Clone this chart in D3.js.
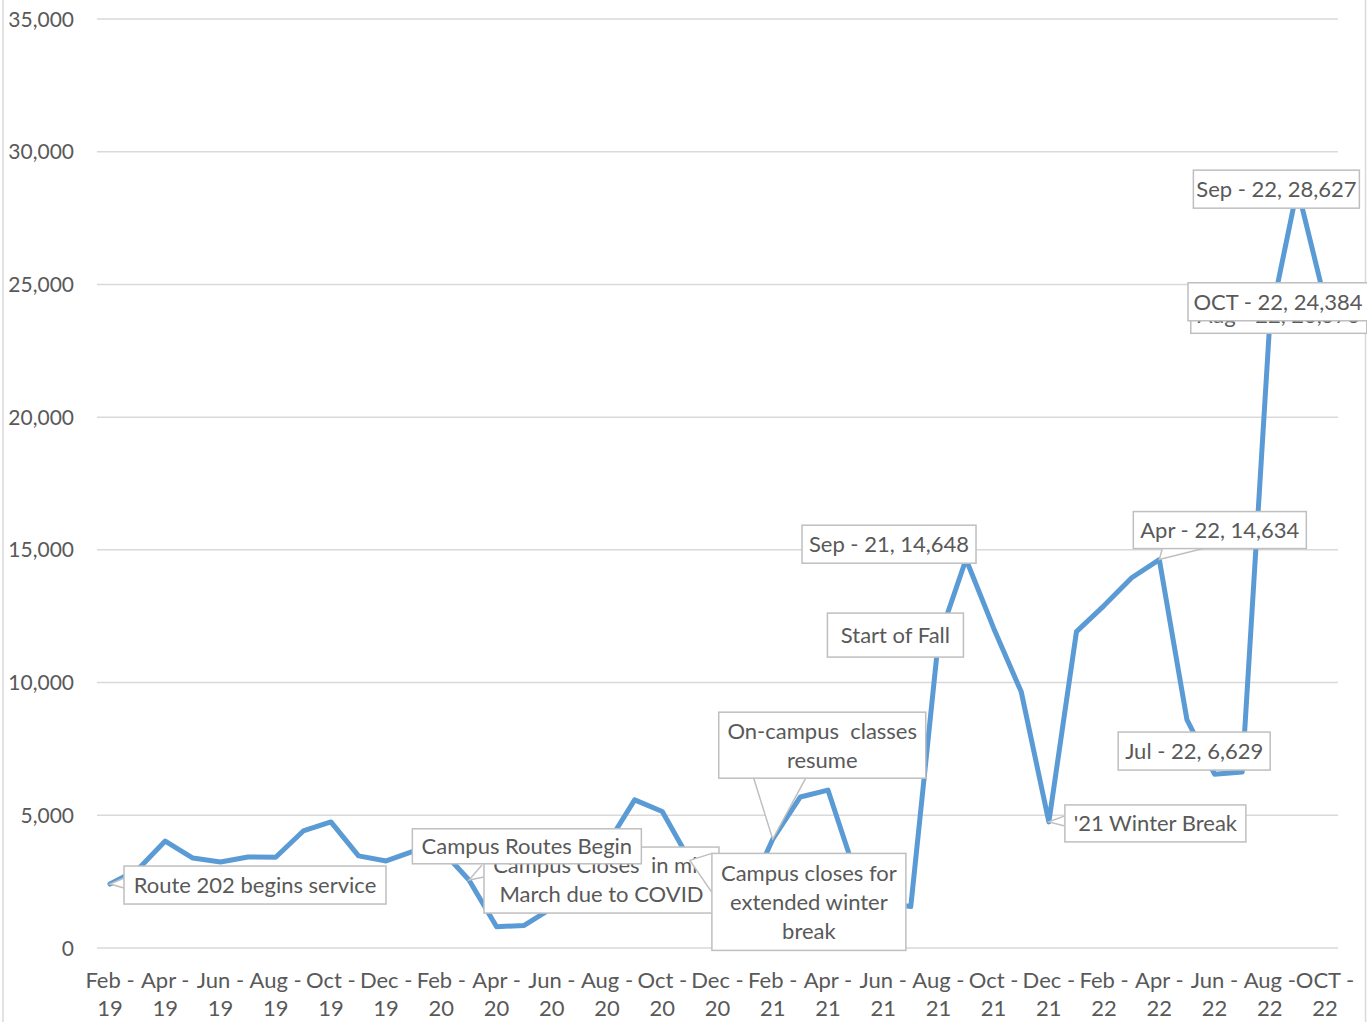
<!DOCTYPE html>
<html lang="en">

<head>
    <meta charset="UTF-8">
    <title>Ridership</title>
    <style>
        body {
            margin: 0;
            background: #ffffff;
        }
    </style>
</head>

<body>
    <div id="chart"></div>
</body>
<script src="https://cdnjs.cloudflare.com/ajax/libs/d3/7.8.5/d3.min.js"></script>
<script>
    // monthly categories, Feb 2019 .. Oct 2022
    var months = [
        "Feb - 19", "Mar - 19", "Apr - 19", "May - 19", "Jun - 19", "Jul - 19", "Aug - 19", "Sep - 19", "Oct - 19", "Nov - 19", "Dec - 19",
        "Jan - 20", "Feb - 20", "Mar - 20", "Apr - 20", "May - 20", "Jun - 20", "Jul - 20", "Aug - 20", "Sep - 20", "Oct - 20", "Nov - 20", "Dec - 20",
        "Jan - 21", "Feb - 21", "Mar - 21", "Apr - 21", "May - 21", "Jun - 21", "Jul - 21", "Aug - 21", "Sep - 21", "Oct - 21", "Nov - 21", "Dec - 21",
        "Jan - 22", "Feb - 22", "Mar - 22", "Apr - 22", "May - 22", "Jun - 22", "Jul - 22", "Aug - 22", "Sep - 22", "OCT - 22"
    ];
    var riders = [
        2410, 2950, 4030, 3390, 3240, 3430, 3420, 4410, 4750, 3470, 3280,
        3650, 3700, 2560, 800, 850, 1500, 2600, 3900, 5580, 5140, 3300, 2300,
        1800, 4100, 5690, 5950, 2800, 1700, 1560, 11600, 14648, 12050, 9650, 4750,
        11920, 12900, 13950, 14634, 8600, 6550, 6629, 23573, 28627, 24384
    ];
    var yTicks = [0, 5000, 10000, 15000, 20000, 25000, 30000, 35000];

    // callout text, attached to a month
    var noteMonths = ["Mar - 20", "Feb - 19", "Feb - 20", "Feb - 21", "Nov - 20", "Sep - 21", "Aug - 21", "Dec - 21", "Apr - 22", "Jul - 22", "Sep - 22", "Aug - 22", "OCT - 22"];
    var noteTexts = [
        ["Campus Closes  in mid", "March due to COVID"],
        ["Route 202 begins service"],
        ["Campus Routes Begin"],
        ["On-campus  classes", "resume"],
        ["Campus closes for", "extended winter", "break"],
        ["Sep - 21, 14,648"],
        ["Start of Fall"],
        ["'21 Winter Break"],
        ["Apr - 22, 14,634"],
        ["Jul - 22, 6,629"],
        ["Sep - 22, 28,627"],
        ["Aug - 22, 23,573"],
        ["OCT - 22, 24,384"]
    ];
</script>
<script>
    var W = 1367, H = 1022;
    var font = "Lato, 'Open Sans', sans-serif";
    var fontSize = "22px";
    var textColor = "#595959";
    var gridColor = "#d9d9d9";
    var lineColor = "#5b9bd5";

    var svg = d3.select("#chart").append("svg")
        .attr("width", W)
        .attr("height", H);

    var x = d3.scalePoint().domain(months).range([110, 1325]);
    var y = d3.scaleLinear().domain([0, 35000]).range([948, 19]);

    // chart border (left / right edges only show)
    svg.append("line").attr("x1", 3).attr("x2", 3).attr("y1", 0).attr("y2", H)
        .style("stroke", gridColor).style("stroke-width", 1.5);
    svg.append("line").attr("x1", 1365.5).attr("x2", 1365.5).attr("y1", 0).attr("y2", H)
        .style("stroke", gridColor).style("stroke-width", 1.5);

    // gridlines
    svg.selectAll(".grid").data(yTicks).enter().append("line")
        .attr("x1", 97).attr("x2", 1338)
        .attr("y1", function (d) { return y(d); })
        .attr("y2", function (d) { return y(d); })
        .style("stroke", gridColor).style("stroke-width", 1.5);

    // y labels
    var fmt = d3.format(",");
    svg.selectAll(".ylab").data(yTicks).enter().append("text")
        .attr("x", 74)
        .attr("y", function (d) { return y(d); })
        .attr("dy", "0.36em")
        .attr("text-anchor", "end")
        .style("font-family", font).style("font-size", "21px").style("fill", textColor)
        .text(function (d) { return fmt(d); });

    // x labels, every other month, split on two lines
    var shown = months.filter(function (m, i) { return i % 2 == 0; });
    var xl = svg.selectAll(".xlab").data(shown).enter().append("text")
        .attr("text-anchor", "middle")
        .style("font-family", font).style("font-size", fontSize).style("fill", textColor);
    xl.append("tspan")
        .attr("x", function (d) { return x(d); })
        .attr("y", 988)
        .text(function (d) { return d.split(" - ")[0] + " -"; });
    xl.append("tspan")
        .attr("x", function (d) { return x(d); })
        .attr("y", 1016)
        .text(function (d) { return d.split(" - ")[1]; });

    // the line
    var line = d3.line()
        .x(function (d, i) { return x(months[i]); })
        .y(function (d) { return y(d); });
    svg.append("path")
        .attr("d", line(riders))
        .style("fill", "none")
        .style("stroke", lineColor)
        .style("stroke-width", 5)
        .style("stroke-linejoin", "round")
        .style("stroke-linecap", "round");

    // callout boxes: offset of box from the point, box size, leader wedge (two points on the box)
    var noteBoxes = [
        { dx: 15, dy: -33, w: 235, h: 66, lead: [[13, -15], [15, -3]] },
        { dx: 14, dy: -18, w: 262, h: 38, lead: [[14, -6], [14, 4]] },
        { dx: -29, dy: -21, w: 229, h: 35, lead: null },
        { dx: -54, dy: -127, w: 207, h: 66, lead: [[-19, -61], [33, -61]] },
        { dx: 22, dy: -7, w: 194, h: 97, lead: [[22, -7], [22, 32]] },
        { dx: -164, dy: -34, w: 174, h: 38, lead: null },
        { dx: -111, dy: -27, w: 136, h: 44, lead: null },
        { dx: 16, dy: -17, w: 181, h: 37, lead: [[16, -6], [16, 4]] },
        { dx: -26, dy: -48, w: 173, h: 37, lead: [[3, -11], [44, -11]] },
        { dx: -124, dy: -40, w: 152, h: 38, lead: null },
        { dx: -104, dy: -18, w: 166, h: 38, lead: null },
        { dx: -79, dy: -26, w: 176, h: 37, lead: null },
        { dx: -137, dy: -18, w: 180, h: 38, lead: null }
    ];

    noteTexts.forEach(function (lines, k) {
        var m = noteMonths[k];
        var px = x(m), py = y(riders[months.indexOf(m)]);
        var b = noteBoxes[k];
        var g = svg.append("g");
        if (b.lead) {
            g.append("path")
                .attr("d", "M" + (px + b.lead[0][0]) + "," + (py + b.lead[0][1]) +
                    " L" + px + "," + py +
                    " L" + (px + b.lead[1][0]) + "," + (py + b.lead[1][1]))
                .style("fill", "#ffffff")
                .style("stroke", "#bfbfbf")
                .style("stroke-width", 1.5);
        }
        g.append("rect")
            .attr("x", px + b.dx)
            .attr("y", py + b.dy)
            .attr("width", b.w)
            .attr("height", b.h)
            .style("fill", "#ffffff")
            .style("stroke", "#bfbfbf")
            .style("stroke-width", 1.5);
        var lh = 29;
        var cy = py + b.dy + b.h / 2 - (lines.length - 1) * lh / 2;
        lines.forEach(function (t, j) {
            g.append("text")
                .attr("x", px + b.dx + b.w / 2)
                .attr("y", cy + j * lh)
                .attr("dy", "0.36em")
                .attr("text-anchor", "middle")
                .style("font-family", font)
                .style("font-size", fontSize)
                .style("fill", textColor)
                .style("white-space", "pre")
                .text(t);
        });
    });
</script>

</html>
